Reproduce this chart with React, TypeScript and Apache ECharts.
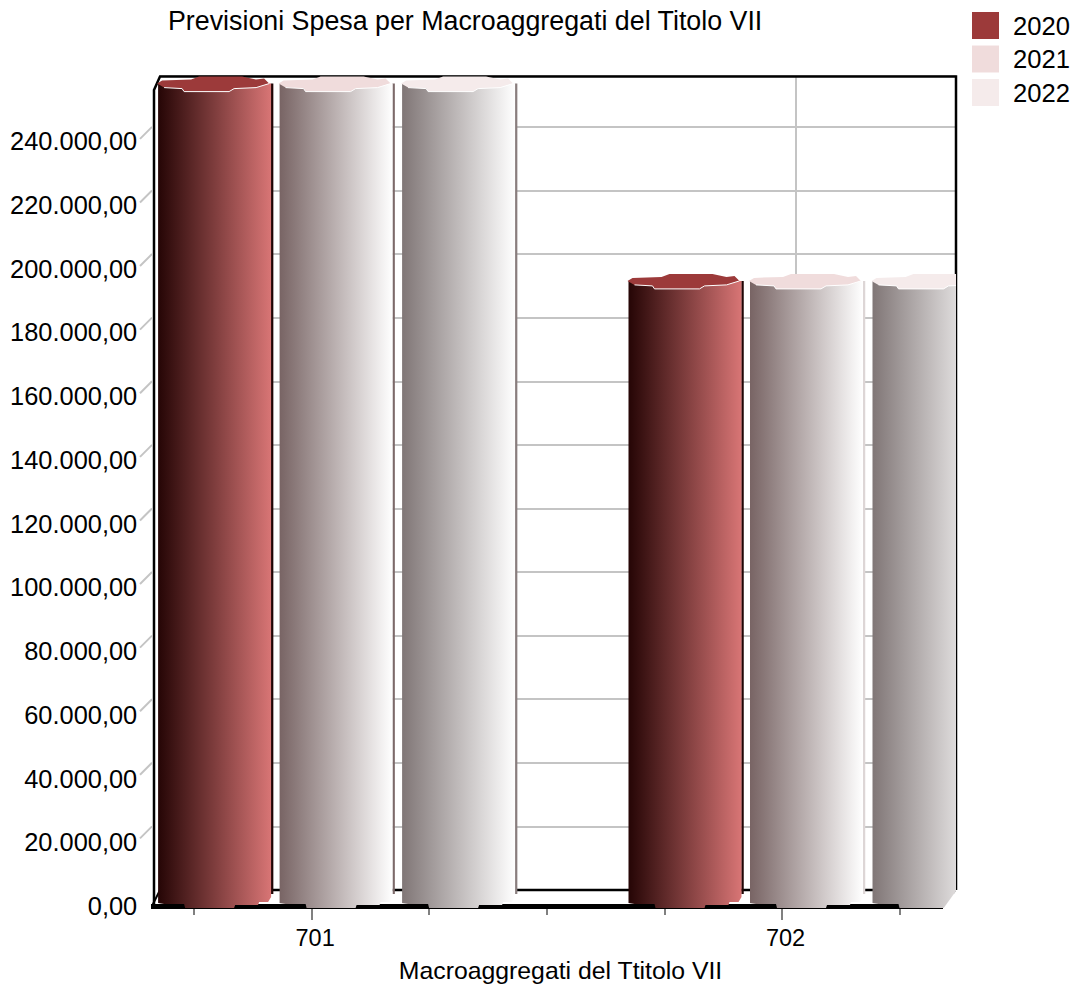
import React, { useEffect, useRef } from "react";
import * as echarts from "echarts";

const titleText = "Previsioni Spesa per Macroaggregati del Titolo VII";
const xAxisTitle = "Macroaggregati del Ttitolo VII";
const categories = ["", "701", "", "", "", "702", ""];
const seriesNames = ["2020", "2021", "2022"];
const values2020 = [null, 255500, null, null, null, 193600, null];
const values2021 = [null, 255500, null, null, null, 193600, null];
const values2022 = [null, 255500, null, null, null, 193600, null];
const yTicks = [20000, 40000, 60000, 80000, 100000, 120000, 140000, 160000, 180000, 200000, 220000, 240000];

const FONT = "'Liberation Sans', Arial, sans-serif";
const capColors = ["#9c3a3a", "#f0dcdc", "#f5ebeb"];
const bodyStops = [["#250505", "#d87575"], ["#786464", "#ffffff"], ["#807676", "#ffffff"]];
const stripColors = ["#200606", "#7c6a6a", "#8a7e7e"];
const barOffsets = [-153.5, -32, 90.5];
const BAR_W = 113;
const WALL_RIGHT = 956;
const FRONT_RIGHT = 943;
const capRel = [[-1, 0], [4, -3], [33, -4], [41, -7], [84, -7], [98, -4], [106, -5], [111, 0], [98, 4], [76, 5], [71, 8], [26, 8], [24, 5], [6, 4]];
const highlightRel = [[111, 0], [98, 4], [76, 5], [71, 8], [26, 8], [24, 5], [6, 4]];

function fmt(v: number) {
  const s = String(Math.round(v)).replace(/\B(?=(\d{3})+(?!\d))/g, ".");
  return s + ",00";
}

function barRenderer(si: number) {
  return (params: any, api: any) => {
    const v = api.value(1);
    if (v == null || isNaN(v)) return null;
    const p = api.coord([api.value(0), v]);
    const base = api.coord([api.value(0), 0]);
    const x = p[0] + barOffsets[si];
    const top = p[1] - 8;
    const b = base[1];
    const pts = [
      [x, top], [x + BAR_W, top], [x + BAR_W, b - 9], [x + 110, b - 4], [x + 101, b - 4], [x + 100, b - 1],
      [x + 77, b - 1], [x + 76, b + 2], [x + 27, b + 2], [x + 26, b - 2], [x + 6, b - 2], [x, b - 3],
    ];
    const rel = (a: number[][]) => a.map((q) => [x + q[0], top + q[1]]);
    const clipped = x + BAR_W > WALL_RIGHT;
    const stripX = clipped ? WALL_RIGHT - 1 : x + BAR_W + 1;
    return {
      type: "group",
      clipPath: {
        type: "polygon",
        shape: { points: [[0, 0], [WALL_RIGHT, 0], [WALL_RIGHT, b - 15], [FRONT_RIGHT, b + 3], [0, b + 3]] },
      },
      children: [
        {
          type: "line",
          shape: { x1: stripX, y1: top, x2: stripX, y2: b - 12 },
          style: {
            stroke: clipped ? "#a8a8a8" : (si === 1 && api.value(0) === 5 ? "#ddd6d6" : stripColors[si]),
            lineWidth: 2.5,
          },
        },
        {
          type: "polygon",
          shape: { points: pts },
          style: {
            fill: new echarts.graphic.LinearGradient(0, 0, 1, 0, [
              { offset: 0, color: bodyStops[si][0] },
              { offset: 1, color: bodyStops[si][1] },
            ]),
          },
        },
        { type: "polygon", shape: { points: rel(capRel) }, style: { fill: capColors[si] } },
        { type: "polyline", shape: { points: rel(highlightRel) }, style: { stroke: "#ffffff", lineWidth: 1, fill: "none" } },
      ],
    };
  };
}

export default function App() {
  const ref = useRef<HTMLDivElement>(null);
  useEffect(() => {
    const chart = echarts.init(ref.current!, null, { renderer: "svg" });
    const allValues = [values2020, values2021, values2022];
    const frameLine = (pts: number[][], lineWidth: number, stroke = "#000", z = 1) => ({
      type: "polyline",
      z,
      silent: true,
      shape: { points: pts },
      style: { stroke, lineWidth, fill: "none" },
    });
    chart.setOption({
      animation: false,
      backgroundColor: "#fff",
      textStyle: { fontFamily: FONT, color: "#000" },
      title: {
        text: titleText,
        left: 163,
        top: 2,
        textStyle: { fontFamily: FONT, fontSize: 26.8, fontWeight: "normal", color: "#000" },
      },
      legend: {
        orient: "vertical",
        left: 967,
        top: 7,
        itemWidth: 27,
        itemHeight: 27,
        itemGap: 6.5,
        icon: "rect",
        data: seriesNames,
        selectedMode: false,
        textStyle: { fontFamily: FONT, fontSize: 25.6, color: "#000", padding: [0, 0, 0, 9] },
      },
      grid: [
        { left: 135.2, width: 823.2, top: 90, height: 816 },
        { left: 160, width: 796, top: 76, height: 814 },
      ],
      xAxis: [
        {
          type: "category",
          gridIndex: 0,
          data: categories,
          axisLine: { show: false },
          axisTick: { show: true, alignWithLabel: true, length: 9, lineStyle: { color: "#808080", width: 2 } },
          axisLabel: {
            interval: 0,
            margin: 20,
            padding: [0, 0, 0, 7],
            fontFamily: FONT,
            fontSize: 23.5,
            color: "#000",
          },
          splitLine: { show: false },
        },
        { type: "category", gridIndex: 1, data: categories, show: false },
      ],
      yAxis: [
        {
          type: "value",
          gridIndex: 0,
          min: 0,
          max: 256000,
          interval: 20000,
          axisLine: { show: false },
          axisTick: { show: false },
          splitLine: { show: false },
          axisLabel: {
            margin: -2,
            showMaxLabel: false,
            fontFamily: FONT,
            fontSize: 25.4,
            color: "#000",
            formatter: (v: number) => fmt(v),
          },
        },
        {
          type: "value",
          gridIndex: 1,
          min: 0,
          max: 256000,
          interval: 20000,
          axisLine: { show: false },
          axisTick: { show: false },
          axisLabel: { show: false },
          splitLine: { show: true, lineStyle: { color: "#c4c4c4", width: 2 } },
        },
      ],
      graphic: [
        // back wall and front frame
        frameLine([[796, 76], [796, 890]], 2, "#c4c4c4"),
        frameLine([[160, 890], [WALL_RIGHT, 890]], 2.5),
        frameLine([[154, 906], [154, 90], [160, 76.5], [WALL_RIGHT, 76.5], [WALL_RIGHT, 890]], 2.5),
        frameLine([[152, 906], [160, 890]], 2),
        frameLine([[151, 906.5], [FRONT_RIGHT, 906.5]], 5),
        frameLine([[312, 906], [312, 920]], 2, "#808080", 0),
        frameLine([[782, 906], [782, 920]], 2, "#808080", 0),
        {
          type: "text",
          z: 1,
          x: 560.5,
          y: 970,
          style: {
            text: xAxisTitle,
            fontFamily: FONT,
            fontSize: 24.8,
            fill: "#000",
            align: "center",
            verticalAlign: "middle",
          },
        },
      ],
      series: [
        {
          type: "custom",
          name: "ticks",
          xAxisIndex: 1,
          yAxisIndex: 1,
          z: 1,
          clip: false,
          silent: true,
          data: yTicks.map((t) => [0, t]),
          encode: { x: 0, y: 1 },
          renderItem: (_p: any, api: any) => {
            const y = api.coord([0, api.value(1)])[1];
            return {
              type: "line",
              shape: { x1: 152, y1: y, x2: 140, y2: y + 12 },
              style: { stroke: "#c4c4c4", lineWidth: 2 },
            };
          },
        },
        ...seriesNames.map((name, si) => ({
          type: "custom",
          name,
          xAxisIndex: 0,
          yAxisIndex: 0,
          z: 2,
          clip: false,
          itemStyle: { color: capColors[si] },
          data: allValues[si].map((v, i) => [i, v]),
          encode: { x: 0, y: 1 },
          renderItem: barRenderer(si),
        })),
      ],
    });
    return () => chart.dispose();
  }, []);
  return <div ref={ref} style={{ width: 1082, height: 988, position: "absolute", left: 0, top: 0 }} />;
}
